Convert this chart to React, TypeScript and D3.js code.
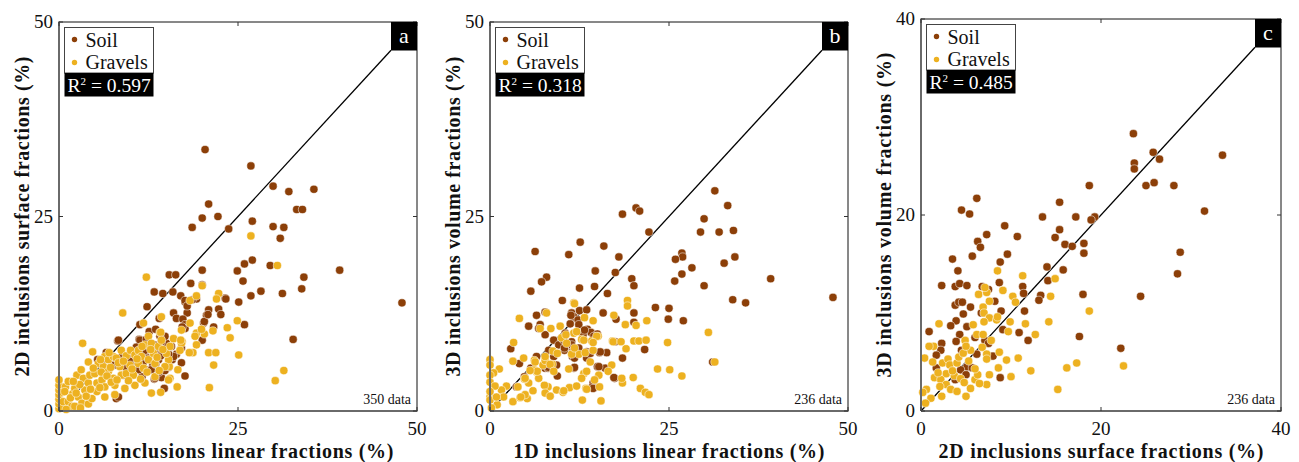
import React from "react";
import * as d3 from "d3";

// ---------- DATA ----------
const ticksAB = [0, 25, 50];
const ticksC = [0, 20, 40];
const legendLabels = ["Soil", "Gravels"];
const panelLetters = ["a", "b", "c"];
const r2Values = ["0.597", "0.318", "0.485"];
const dataCounts = ["350 data", "236 data", "236 data"];
const xLabels = ["1D inclusions linear fractions (%)", "1D inclusions linear fractions (%)", "2D inclusions surface fractions (%)"];
const yLabels = ["2D inclusions surface fractions (%)", "3D inclusions volume fractions (%)", "3D inclusions volume fractions (%)"];

// Panel a: x = 1D linear fraction, y = 2D surface fraction
const aSoil: [number, number][] = [
  [20.4,33.6],[26.8,31.5],[29.9,28.9],[32.1,28.2],[35.6,28.5],[33.2,25.9],[34.0,25.9],[20.9,26.6],[20.0,24.8],[22.2,25.0],
  [18.6,23.6],[23.7,23.4],[27.0,24.4],[29.9,23.7],[31.4,23.6],[30.9,22.2],[27.0,19.4],[25.9,18.9],[29.5,18.7],[24.9,18.0],
  [39.2,18.1],[25.7,16.7],[34.2,17.2],[33.9,15.7],[31.2,15.1],[28.2,15.4],[26.8,14.8],[25.1,14.0],[23.2,14.5],[47.9,13.9],
  [25.9,11.1],[32.7,9.2],[20.0,18.1],[20.0,16.2],[15.4,17.5],[16.3,17.5],[13.3,15.3],[14.5,15.1],[15.9,15.3],[17.0,14.8],
  [18.4,16.4],[17.6,14.0],[12.3,13.4],[16.0,12.6],[17.9,12.6],[19.2,14.4],[20.9,13.0],[22.3,13.1],[22.6,12.4],[20.6,12.3],
  [20.2,11.3],[21.6,10.8],[16.4,11.9],[17.3,11.8],[17.6,11.1],[11.3,11.1],[20.0,9.1],[17.6,10.6],[8.2,9.0],[11.2,9.2],
  [11.6,8.7],[12.2,7.8],[14.1,8.4],[15.0,8.7],[17.1,8.1],[16.4,7.3],[15.0,7.3],[15.8,6.6],[17.1,6.2],[17.6,4.5],
  [13.3,4.1],[14.3,4.3],[14.7,2.9],[8.0,1.6],[6.6,7.3],[6.0,6.3],[7.6,6.6],[9.4,6.8],[10.6,6.6],[11.3,5.7],
  [12.2,5.3],[13.1,5.9],[10.4,5.3],[9.0,4.6],[9.9,4.8],[7.8,5.9],[13.6,7.4],[11.8,7.0],[11.3,9.1],[12.2,9.2],
  [11.1,8.1],[12.0,7.8],[10.6,6.1],[9.9,6.6],[11.8,6.3],[13.9,6.6],[14.8,7.4],[16.0,7.0],[15.7,8.3],[14.3,8.9],
  [14.8,9.6],[13.4,7.8],[12.9,5.3],[13.4,4.2],[11.6,4.4],[11.1,5.3],[9.4,5.5],[8.3,9.1],[6.6,7.5],[5.4,6.6],
  [8.3,1.8],[12.6,10.2],[13.5,10.5],[10.0,7.4],[8.8,7.0],[14.0,5.0],[15.3,5.6],[12.5,6.8],[10.8,8.2],[14.0,11.9],
  [17.6,14.2],[18.6,14.3],[17.9,13.5],[20.3,11.5],[20.8,12.4],[23.3,14.4],[14.1,9.6],[13.3,8.5],[14.2,7.1],[15.3,7.3],
  [14.8,5.2],[13.5,6.0],[17.2,10.8]
];
const aGravel: [number, number][] = [
  [26.8,22.5],[30.5,18.7],[20.0,16.1],[12.2,17.2],[8.9,12.6],[18.3,14.2],[19.2,14.8],[22.3,15.1],[22.0,14.4],[24.9,11.6],
  [23.5,10.7],[23.9,9.4],[25.1,7.2],[31.4,5.2],[30.2,3.9],[21.0,3.0],[21.6,5.9],[20.9,7.5],[21.9,7.5],[20.3,9.9],
  [21.5,10.3],[19.2,8.5],[18.7,7.5],[17.2,8.9],[14.3,12.1],[14.1,10.1],[11.8,11.3],[3.3,8.7],[4.7,7.6],[4.1,6.3],
  [12.9,2.3],[14.2,2.4],[16.5,3.1],[15.4,5.7],[15.3,6.6],[15.5,4.2],[19.2,10.0],[18.2,7.5],[17.1,8.7],[19.9,10.5],
  [0,0.3],[0,0.9],[0,1.5],[0,2.1],[0,2.7],[0,3.3],[0,4.0],[0.5,0.5],[0.6,1.2],[0.5,2.4],
  [0.9,3.1],[1.3,1.2],[1.3,3.8],[1.8,0.6],[1.9,2.2],[2.2,2.9],[2.5,4.6],[2.7,1.8],[3.2,1.0],[3.4,4.2],
  [3.6,2.7],[4.1,3.6],[4.1,0.9],[4.3,4.6],[4.6,1.6],[5.0,4.8],[5.3,2.5],[5.3,3.6],[5.5,6.1],[6.0,4.0],
  [6.2,5.7],[6.4,1.8],[6.4,3.1],[6.4,7.0],[6.9,5.1],[6.9,6.6],[7.6,7.0],[7.6,4.2],[7.8,2.1],[7.8,3.3],
  [8.0,6.8],[8.5,5.7],[8.7,4.6],[8.7,7.8],[9.2,2.9],[9.4,7.1],[9.4,4.8],[9.9,5.9],[10.0,7.8],[10.4,4.6],
  [10.6,3.3],[10.6,7.2],[11.1,6.1],[11.1,7.8],[11.5,7.0],[11.8,5.5],[12.0,8.5],[12.0,3.6],[12.5,6.6],[12.5,9.6],
  [12.9,8.7],[13.2,7.4],[13.4,6.1],[13.4,4.4],[13.9,8.3],[14.2,10.1],[14.3,9.1],[14.8,5.7],[15.0,7.4],[15.3,4.0],
  [15.5,8.3],[16.0,9.3],[16.6,5.3],[16.9,7.8],[17.0,9.1],[17.1,10.4],[18.3,11.3],[0.8,2.5],[2.2,0.6],[1.0,0.2],
  [1.6,1.7],[2.4,2.3],[2.9,3.4],[3.0,0.4],[3.8,1.9],[4.4,2.8],[4.8,5.5],[5.7,3.0],[5.9,5.0],[6.7,4.5],
  [7.2,5.6],[7.3,3.7],[8.1,4.0],[8.3,6.2],[9.0,6.4],[9.7,3.9],[10.2,5.4],[10.9,6.7],[11.4,4.1],[11.6,8.3],
  [12.3,5.0],[12.8,7.9],[13.7,6.9],[14.0,5.2],[14.5,7.9],[3.1,5.3],[2.0,3.8],[5.8,6.6],[7.0,7.5],[19.0,9.6]
];

// Panel b: x = 1D linear fraction, y = 3D volume fraction
const bSoil: [number, number][] = [
  [31.4,28.3],[33.2,26.4],[20.4,26.1],[20.9,25.7],[18.5,25.3],[29.9,24.7],[22.2,23.0],[29.4,23.0],[32.0,23.0],[34.0,23.2],
  [12.6,21.7],[6.3,20.5],[11.0,20.1],[15.9,21.2],[18.0,19.8],[26.8,20.3],[26.9,19.8],[25.9,19.5],[32.7,19.0],[34.2,19.8],
  [28.2,18.4],[14.7,18.0],[17.5,17.8],[7.9,17.2],[7.2,16.6],[19.8,17.0],[20.1,16.1],[26.8,17.6],[25.8,16.7],[29.9,16.1],
  [39.2,17.0],[5.7,15.4],[12.5,15.8],[14.6,16.0],[16.4,15.1],[10.1,14.2],[47.9,14.6],[33.9,14.3],[35.7,13.9],[23.1,13.3],
  [25.0,13.2],[12.5,12.9],[13.5,13.0],[11.4,12.6],[6.5,12.3],[7.7,12.7],[15.8,12.6],[11.7,12.1],[20.1,12.6],[12.3,11.7],
  [17.6,11.8],[24.9,11.8],[27.0,11.6],[20.1,11.4],[11.2,11.2],[5.4,10.9],[7.0,11.1],[6.8,10.6],[13.6,10.5],[14.1,10.1],
  [15.0,9.9],[7.7,9.8],[10.5,10.0],[13.0,9.8],[17.5,8.9],[8.9,9.1],[9.6,8.5],[11.4,8.9],[2.9,8.0],[8.2,7.8],
  [10.4,7.8],[11.5,8.1],[13.5,7.6],[15.3,7.5],[16.3,7.5],[21.6,7.9],[18.5,6.8],[4.1,6.1],[6.4,6.8],[11.5,7.0],
  [13.5,6.8],[5.7,5.5],[7.7,5.5],[8.1,5.5],[9.4,4.5],[11.7,5.5],[15.0,5.7],[16.1,5.5],[17.4,4.2],[14.4,3.6],
  [14.3,3.1],[3.7,3.1],[4.8,4.4],[31.1,6.3],[9.3,5.9],[11.3,12.3],[12.4,11.1],[13.2,10.4],[14.5,9.6],[10.3,9.1],
  [10.4,8.1],[11.4,8.5],[11.7,7.8],[12.4,8.1],[14.0,7.4],[15.4,7.6],[6.5,7.0],[8.2,5.6],[11.8,5.6],[11.8,6.8],
  [15.2,5.7],[17.3,4.3],[14.4,2.9],[8.9,7.0]
];
const bGravel: [number, number][] = [
  [19.2,14.2],[19.2,13.5],[11.7,13.9],[4.1,11.9],[7.9,12.6],[13.2,12.0],[14.4,11.6],[17.3,12.3],[18.9,11.1],[20.4,11.0],
  [21.9,11.6],[8.5,10.6],[11.7,10.0],[30.5,10.1],[10.0,9.4],[12.8,9.2],[14.2,9.0],[15.1,9.6],[17.1,9.0],[20.1,9.0],
  [20.8,9.0],[21.8,9.1],[24.8,8.8],[3.3,8.8],[10.7,8.7],[19.0,8.0],[8.8,7.7],[12.4,7.3],[13.3,7.5],[14.4,7.8],
  [6.2,6.5],[3.2,6.4],[0,6.6],[0,5.9],[1.3,5.4],[0.5,4.9],[0,4.6],[0,3.7],[8.7,6.0],[7.4,5.9],
  [6.5,5.0],[17.0,5.9],[23.4,5.4],[25.1,5.3],[26.8,4.5],[31.4,6.3],[18.5,3.6],[20.0,4.3],[21.0,2.9],[21.7,2.4],
  [22.2,2.1],[12.9,1.4],[15.5,1.3],[3.2,1.2],[0,1.8],[0,1.4],[1.0,0.8],[2.3,3.2],[1.6,2.7],[4.2,1.7],
  [5.2,1.6],[6.0,2.6],[8.1,3.1],[9.3,2.7],[10.2,2.4],[11.1,3.0],[12.1,3.2],[13.4,2.9],[15.3,3.1],[5.4,3.6],
  [6.8,4.2],[7.6,3.3],[4.8,4.1],[3.9,3.1],[4.9,2.1],[1.9,1.8],[0.7,3.2],[0.9,1.8],[4.3,1.8],[7.7,2.3],
  [8.4,1.9],[10.3,2.6],[13.5,2.8],[4.9,4.2],[6.2,5.3],[6.3,6.3],[6.6,5.1],[7.7,6.5],[8.4,6.0],[8.9,5.1],
  [9.4,7.4],[10.6,9.8],[11.4,7.3],[11.0,5.4],[11.8,13.8],[12.1,10.2],[11.8,8.1],[13.1,9.1],[13.1,4.8],[12.8,4.2],
  [13.5,5.1],[14.9,9.6],[14.4,8.8],[14.0,6.3],[15.2,4.6],[14.6,4.0],[16.5,5.1],[17.2,8.9],[18.3,8.9],[18.4,4.2],
  [9.8,10.9],[7.0,10.6],[7.7,7.0],[5.6,5.2],[4.7,6.8],[0,2.5],[0.2,0.4]
];

// Panel c: x = 2D surface fraction, y = 3D volume fraction
const cSoil: [number, number][] = [
  [23.6,28.3],[25.8,26.4],[26.5,25.7],[33.5,26.1],[23.7,25.3],[23.7,24.7],[18.7,23.0],[25.0,23.0],[25.9,23.3],[28.1,23.0],
  [6.2,21.7],[15.4,21.3],[4.5,20.5],[5.4,20.1],[31.5,20.4],[13.5,19.8],[17.2,19.8],[19.3,19.8],[18.9,19.5],[9.3,18.9],
  [15.4,18.5],[7.3,18.0],[10.7,17.8],[14.9,17.7],[6.3,17.3],[6.6,16.7],[16.0,17.0],[16.8,16.8],[18.1,17.1],[18.1,16.1],
  [3.5,15.5],[5.7,15.8],[28.8,16.2],[9.6,16.0],[8.8,15.2],[4.1,14.3],[14.0,14.7],[15.8,14.4],[28.5,14.0],[2.3,12.8],
  [3.8,12.7],[4.3,13.0],[5.1,12.8],[6.8,12.7],[8.7,13.1],[11.3,12.7],[14.1,13.3],[11.4,12.0],[13.3,11.8],[18.0,11.9],
  [24.4,11.7],[3.8,10.8],[4.2,11.1],[4.6,11.1],[13.1,11.3],[8.2,11.2],[7.5,12.4],[5.5,10.6],[4.7,9.9],[6.7,10.0],
  [8.9,10.2],[11.5,10.2],[3.9,9.2],[3.3,8.7],[5.1,8.6],[9.1,8.3],[10.9,8.0],[0.9,8.1],[4.3,7.8],[6.0,7.5],
  [7.1,7.2],[17.6,7.6],[11.9,7.2],[2.3,6.9],[3.9,7.1],[7.5,6.9],[2.2,6.2],[4.5,6.2],[6.2,5.8],[1.7,5.7],
  [22.2,6.4],[7.8,5.6],[8.0,5.6],[5.1,4.5],[5.7,4.4],[1.7,4.4],[4.4,4.2],[5.0,3.7],[8.8,3.4],[3.8,3.2]
];
const cGravel: [number, number][] = [
  [14.9,13.5],[11.3,13.8],[8.5,14.3],[9.1,12.3],[6.4,11.9],[7.3,12.1],[7.1,12.6],[10.2,11.7],[10.5,11.1],[14.4,11.7],
  [7.6,11.2],[6.9,10.6],[18.7,10.2],[7.0,10.0],[7.6,9.5],[8.4,9.3],[8.5,9.6],[7.0,9.1],[6.2,7.8],[6.9,7.8],
  [9.9,9.1],[9.7,8.1],[11.6,8.9],[12.7,7.8],[14.2,9.1],[2.0,8.9],[5.8,8.8],[4.9,7.2],[7.8,7.2],[5.5,6.2],
  [6.8,6.5],[7.3,5.8],[7.3,5.3],[1.4,6.6],[0.9,6.6],[0.4,5.4],[1.3,5.0],[2.4,4.9],[3.0,5.3],[3.2,4.7],
  [4.0,4.9],[4.2,5.5],[4.7,5.9],[2.8,3.8],[3.7,3.6],[1.5,3.4],[2.2,3.2],[2.8,2.7],[2.1,2.5],[3.3,2.2],
  [2.3,1.5],[1.1,1.3],[0.5,0.8],[0.6,2.2],[0.2,1.9],[4.0,2.0],[5.0,1.5],[6.0,3.2],[6.3,3.7],[7.3,2.7],
  [7.6,3.7],[8.6,4.4],[9.5,5.2],[8.7,6.0],[10.8,5.4],[10.0,3.5],[12.2,4.1],[15.2,2.2],[16.2,4.4],[17.3,4.9],
  [22.5,4.6],[5.5,2.3],[6.5,2.8],[4.4,3.3],[3.5,4.1],[4.8,2.9],[1.9,3.9],[5.3,5.1],[6.0,4.3],[5.0,6.6]
];

const panelData = [
  { soil: aSoil, gravel: aGravel, max: 50, ticks: ticksAB, left: 59, right: 417, top: 22, bottom: 411 },
  { soil: bSoil, gravel: bGravel, max: 50, ticks: ticksAB, left: 490, right: 848, top: 22, bottom: 411 },
  { soil: cSoil, gravel: cGravel, max: 40, ticks: ticksC, left: 921, right: 1281, top: 19, bottom: 411 },
];

const SOIL = "#8C3F08";
const GRAVEL = "#EDB120";
const FONT = "'Liberation Serif', 'Times New Roman', serif";

function Panel({ i }: { i: number }) {
  const p = panelData[i];
  const x = d3.scaleLinear().domain([0, p.max]).range([p.left, p.right]);
  const y = d3.scaleLinear().domain([0, p.max]).range([p.bottom, p.top]);
  const boxW = 26, boxH = 28.5;
  const lineEnd = x.invert(p.right - boxW);
  const cx = (p.left + p.right) / 2;
  const cy = (p.top + p.bottom) / 2;
  const lx = p.left + 5.5, ly = p.top + 5.5;
  const dot = (d: [number, number], k: number, c: string) => (
    <circle key={k} cx={x(d[0])} cy={y(d[1])} r={4.1} fill={c} stroke="#fff" strokeWidth={0.7} strokeOpacity={0.75} />
  );
  const xLen = i === 2 ? 325 : 311;
  const yLen = i === 2 ? 325 : 320;
  return (
    <g fontFamily={FONT}>
      <rect x={p.left} y={p.top} width={p.right - p.left} height={p.bottom - p.top} fill="#fff" />
      {/* diagonal 1:1 line */}
      <line x1={x(0)} y1={y(0)} x2={x(lineEnd)} y2={y(lineEnd)} stroke="#000" strokeWidth={1.3} />
      {p.soil.map((d, k) => dot(d, k, SOIL))}
      {p.gravel.map((d, k) => dot(d, k, GRAVEL))}
      {/* frame */}
      <line x1={p.left} x2={p.right} y1={p.top} y2={p.top} stroke="#111" strokeWidth={1} />
      <line x1={p.right} x2={p.right} y1={p.top} y2={p.bottom} stroke="#111" strokeWidth={1} />
      <line x1={p.left} x2={p.right + 0.5} y1={p.bottom} y2={p.bottom} stroke="#6a6a6a" strokeWidth={2} />
      <line x1={p.left} x2={p.left} y1={p.top - 0.5} y2={p.bottom} stroke="#6a6a6a" strokeWidth={2} />
      {/* ticks */}
      {p.ticks.map((t) => (
        <g key={"t" + t}>
          <line x1={x(t)} x2={x(t)} y1={p.bottom} y2={p.bottom - 4} stroke="#333" />
          <line x1={x(t)} x2={x(t)} y1={p.top} y2={p.top + 4} stroke="#333" />
          <line x1={p.left} x2={p.left + 4} y1={y(t)} y2={y(t)} stroke="#333" />
          <line x1={p.right} x2={p.right - 4} y1={y(t)} y2={y(t)} stroke="#333" />
          <text x={x(t)} y={p.bottom + 24} fontSize={19} textAnchor="middle" fill="#111">{t}</text>
          <text x={p.left - 6} y={y(t) + 6} fontSize={19} textAnchor="end" fill="#111">{t}</text>
        </g>
      ))}
      {/* axis labels */}
      <text x={cx} y={458} fontSize={20} fontWeight="bold" textAnchor="middle" fill="#111"
        textLength={xLen} lengthAdjust="spacing">{xLabels[i]}</text>
      <text transform={`translate(${p.left - 30},${cy}) rotate(-90)`} fontSize={20} fontWeight="bold"
        textAnchor="middle" fill="#111" textLength={yLen} lengthAdjust="spacing">{yLabels[i]}</text>
      {/* legend */}
      <rect x={lx} y={ly} width={89} height={45.5} fill="#fff" stroke="#444" strokeWidth={1} />
      <circle cx={lx + 10} cy={ly + 12} r={2.7} fill={SOIL} />
      <text x={lx + 21} y={ly + 19} fontSize={20} fill="#111">{legendLabels[0]}</text>
      <circle cx={lx + 10} cy={ly + 35} r={2.7} fill={GRAVEL} />
      <text x={lx + 21} y={ly + 41} fontSize={20} fill="#111">{legendLabels[1]}</text>
      <rect x={lx} y={ly + 45.5} width={89} height={23.5} fill="#000" />
      <text x={lx + 3} y={ly + 64} fontSize={19.5} fill="#fff">
        R<tspan fontSize={11} dy={-7}>2</tspan><tspan dy={7}>{" = " + r2Values[i]}</tspan>
      </text>
      {/* panel letter */}
      <rect x={p.right - boxW} y={p.top} width={boxW} height={boxH} fill="#000" />
      <text x={p.right - boxW / 2} y={p.top + 21} fontSize={22} textAnchor="middle" fill="#fff">{panelLetters[i]}</text>
      {/* count */}
      <text x={p.right - 6} y={p.bottom - 7} fontSize={14} textAnchor="end" fill="#111">{dataCounts[i]}</text>
    </g>
  );
}

export default function App() {
  return (
    <svg width={1299} height={462} style={{ position: "absolute", left: 0, top: 0, background: "#fff" }}>
      <rect width={1299} height={462} fill="#fff" />
      {[0, 1, 2].map((i) => <Panel key={i} i={i} />)}
    </svg>
  );
}
